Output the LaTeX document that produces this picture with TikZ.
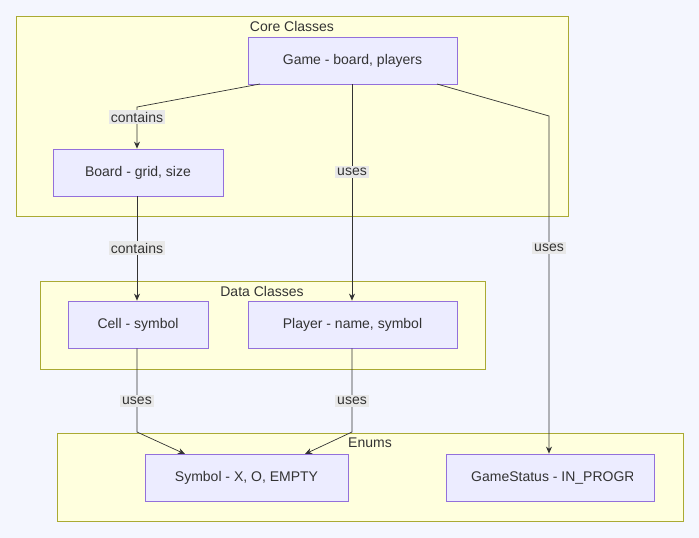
\documentclass[tikz,border=0pt]{standalone}
\usepackage{fontspec}
\setmainfont{Liberation Sans}
\usetikzlibrary{arrows.meta}
\definecolor{bg}{HTML}{F4F6FE}
\definecolor{clf}{HTML}{FFFFDE}
\definecolor{cls}{HTML}{AAAA33}
\definecolor{ndf}{HTML}{ECECFF}
\definecolor{nds}{HTML}{9370DB}
\definecolor{lbl}{HTML}{E8E8E8}
\definecolor{ink}{HTML}{333333}
\begin{document}
\begin{tikzpicture}[x=1pt,y=-1pt,
 every node/.style={font=\fontsize{14}{16}\selectfont, text=ink},
 cluster/.style={draw=cls,fill=clf,line width=0.8pt},
 box/.style={draw=nds,fill=ndf,line width=0.8pt,minimum height=47pt,inner sep=0pt},
 lab/.style={fill=lbl,inner sep=2pt},
 edge/.style={draw=ink,line width=0.7pt,-{Stealth[length=7pt,width=6pt]}},
 ctitle/.style={anchor=north,inner sep=0pt}]
\fill[bg] (0,0) rectangle (699,538);
\useasboundingbox (0,0) rectangle (699,538);
\draw[cluster] (16,16) rectangle (568,216);
\draw[cluster] (40,281) rectangle (485,369);
\draw[cluster] (57,433) rectangle (683,521);
\node[ctitle] (t1) at (292,21) {Core Classes};
\node[ctitle] (t2) at (262,286) {Data Classes};
\node[ctitle] (t3) at (370,438) {Enums};
\node[box,minimum width=209pt] (game) at (352.5,60.5) {Game - board, players};
\node[box,minimum width=170pt] (board) at (138,172.5) {Board - grid, size};
\node[box,minimum width=140pt] (cell) at (138,324.5) {Cell - symbol};
\node[box,minimum width=209pt] (player) at (352.5,324.5) {Player - name, symbol};
\node[box,minimum width=203pt] (symbol) at (246.5,477.5) {Symbol - X, O, EMPTY};
\node[box,minimum width=208pt] (status) at (550,477.5) {};
\begin{scope}
\clip (447,455) rectangle (632,500);
\node[anchor=west,inner sep=0pt] (stext) at (471,477.5) {GameStatus - IN\_PROGRESS};
\end{scope}
\coordinate (g1) at (137,107);
\coordinate (g2) at (549,116);
\coordinate (c1) at (137,432);
\coordinate (p1) at (352,432);
\draw[edge] (260,84) -- (g1) -- (board.north -| g1);
\draw[edge] (game.south -| 352,0) -- (player.north -| 352,0);
\draw[edge] (437,84) -- (g2) -- (status.north -| g2);
\draw[edge] (board.south -| 137,0) -- (cell.north -| 137,0);
\draw[edge] (cell.south -| c1) -- (c1) -- (185,454);
\draw[edge] (player.south -| p1) -- (p1) -- (305,454);
\node[lab] (l1) at (137,117) {contains};
\node[lab] (l2) at (352,172) {uses};
\node[lab] (l3) at (549,248) {uses};
\node[lab] (l4) at (137,248) {contains};
\node[lab] (l5) at (137,401) {uses};
\node[lab] (l6) at (352,401) {uses};
\end{tikzpicture}
\end{document}
